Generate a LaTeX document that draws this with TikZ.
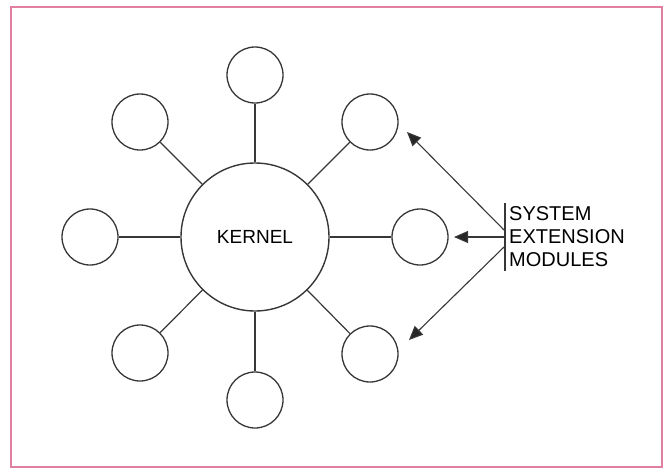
\documentclass[tikz,border=0pt]{standalone}
\usepackage{fontspec}
\setmainfont{Liberation Sans}
\usetikzlibrary{arrows.meta}
\definecolor{framepink}{RGB}{224,128,158}
\definecolor{ink}{RGB}{55,55,55}
\begin{document}
\begin{tikzpicture}[x=1pt,y=-1pt,
  module/.style={circle,draw=ink,line width=1.3pt,minimum size=56pt,inner sep=0pt},
  kern/.style={circle,draw=ink,line width=1.4pt,minimum size=148pt,inner sep=0pt,text=black,font=\fontsize{19}{22}\selectfont},
  link/.style={draw=ink,line width=1.2pt},
  pointer/.style={draw=ink,line width=1.1pt,-{Triangle[length=14pt,width=12pt,fill=black!85]}}]
\useasboundingbox (0,0) rectangle (666,471);
\draw[framepink,line width=1.6pt] (11,7) rectangle (662,467);
\node[kern] (k) at (255,237) {KERNEL};
\node[module] (t) at (255,75) {};
\node[module] (b) at (255,400) {};
\node[module] (l) at (90,237) {};
\node[module] (r) at (420,237) {};
\node[module] (tl) at (140,122) {};
\node[module] (tr) at (370,122) {};
\node[module] (bl) at (140,353) {};
\node[module] (br) at (370,354) {};
\foreach \m in {t,b,l,r,tl,tr,bl,br} \draw[link] (k) -- (\m);
\coordinate (bartop) at (505,203);
\coordinate (barbot) at (505,271);
\draw[ink,line width=1.2pt] (bartop) -- (barbot);
\coordinate (s1) at (504,230);
\coordinate (s2) at (504,237);
\coordinate (s3) at (504,247);
\coordinate (e1) at (407,132);
\coordinate (e2) at (454,237);
\coordinate (e3) at (409,340);
\draw[pointer] (s1) -- (e1);
\draw[pointer] (s2) -- (e2);
\draw[pointer] (s3) -- (e3);
\node[anchor=west,align=left,inner sep=0pt,text=black,font=\fontsize{20}{23}\selectfont] (lbl) at (509,237) {SYSTEM\\EXTENSION\\MODULES};
\end{tikzpicture}
\end{document}
